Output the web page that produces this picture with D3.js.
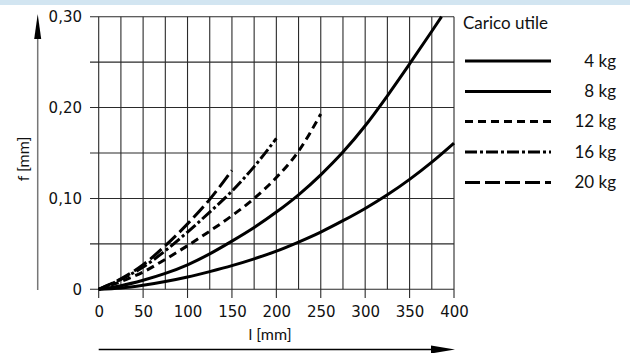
<!DOCTYPE html>
<html><head><meta charset="utf-8">
<script src="https://cdn.jsdelivr.net/npm/d3@7"></script>
<style>
html,body{margin:0;padding:0;background:#fff;}
svg{display:block;}
</style></head>
<body>
<svg id="c" width="630" height="353"></svg>
<script>
// ---- data ----
const xTicks = [0, 50, 100, 150, 200, 250, 300, 350, 400];
const yTickValues = [0, 0.10, 0.20, 0.30];
const yTickLabels = ["0", "0,10", "0,20", "0,30"];
const seriesNames = ["4 kg", "8 kg", "12 kg", "16 kg", "20 kg"];
const l4  = [0, 25, 50, 75, 100, 125, 150, 175, 200, 225, 250, 275, 300, 325, 350, 375, 400];
const f4  = [0, 0.0015, 0.0045, 0.0085, 0.0135, 0.0195, 0.026, 0.0335, 0.042, 0.052, 0.063, 0.0755, 0.089, 0.104, 0.121, 0.140, 0.161];
const l8  = [0, 25, 50, 75, 100, 125, 150, 175, 200, 225, 250, 275, 300, 325, 350, 375, 386];
const f8  = [0, 0.004, 0.010, 0.0175, 0.027, 0.039, 0.053, 0.068, 0.085, 0.104, 0.126, 0.151, 0.180, 0.213, 0.248, 0.284, 0.300];
const l12 = [0, 25, 50, 75, 100, 125, 150, 175, 200, 225, 250];
const f12 = [0, 0.0085, 0.019, 0.033, 0.048, 0.064, 0.081, 0.100, 0.123, 0.152, 0.193];
const l16 = [0, 25, 50, 75, 100, 125, 150, 175, 200];
const f16 = [0, 0.011, 0.0245, 0.0425, 0.063, 0.085, 0.108, 0.135, 0.166];
const l20 = [0, 25, 50, 75, 100, 125, 150];
const f20 = [0, 0.0115, 0.027, 0.048, 0.072, 0.099, 0.131];

const seriesL = [l4, l8, l12, l16, l20];
const seriesF = [f4, f8, f12, f16, f20];
const dashes = [null, null, "8,5", "12,3,3,3", "15,5"];

const svg = d3.select("#c");
// top band
svg.append("rect").attr("x",0).attr("y",0).attr("width",630).attr("height",5).attr("fill","#d2e5f1");

const x = d3.scaleLinear().domain([0, 400]).range([98.7, 454]);
const y = d3.scaleLinear().domain([0, 0.30]).range([289.3, 16.7]);

const grid = svg.append("g").attr("stroke", "#2a2a2a").attr("stroke-width", 1.1);
// vertical grid lines every 25
d3.range(0, 401, 25).forEach(v => {
  const major = v % 50 === 0;
  grid.append("line").attr("x1", x(v)).attr("x2", x(v))
    .attr("y1", y(0.30)).attr("y2", major ? 298 : y(0));
});
// horizontal grid lines every 0.05
d3.range(0, 7).forEach(i => {
  const v = i * 0.05;
  grid.append("line").attr("x1", 90).attr("x2", x(400)).attr("y1", y(v)).attr("y2", y(v));
});

// axes labels via d3 axes (no domain/ticks lines)
const xAxis = d3.axisBottom(x).tickValues(xTicks).tickSize(0).tickPadding(0).tickFormat(d3.format("d"));
const gx = svg.append("g").attr("transform", "translate(0,306)").call(xAxis);
gx.select(".domain").remove();
gx.selectAll("text").attr("font-family","DejaVu Sans").attr("font-size",15).attr("fill","#111").attr("dy","0.71em");

const yAxis = d3.axisLeft(y).tickValues(yTickValues).tickSize(0).tickPadding(0)
  .tickFormat((d, i) => yTickLabels[i]);
const gy = svg.append("g").attr("transform", "translate(82,0)").call(yAxis);
gy.select(".domain").remove();
gy.selectAll("text").attr("font-family","DejaVu Sans").attr("font-size",15).attr("fill","#111");

// curves
const line = d3.line().x(d => x(d[0])).y(d => y(d[1])).curve(d3.curveMonotoneX);
seriesL.forEach((ls, i) => {
  const pts = ls.map((l, j) => [l, seriesF[i][j]]);
  const p = svg.append("path").datum(pts).attr("d", line)
    .attr("fill","none").attr("stroke","#000").attr("stroke-width", 3);
  if (dashes[i]) p.attr("stroke-dasharray", dashes[i]);
});

// axis arrows
svg.append("line").attr("x1",37.7).attr("x2",37.7).attr("y1",290).attr("y2",30).attr("stroke","#777").attr("stroke-width",1.5);
svg.append("path").attr("d","M37.7,14 L34.2,39 L41.2,39 Z").attr("fill","#000");
svg.append("line").attr("x1",98.7).attr("x2",440).attr("y1",349.5).attr("y2",349.5).attr("stroke","#000").attr("stroke-width",1.5);
svg.append("path").attr("d","M455,349.5 L431,345.5 L431,353.5 Z").attr("fill","#000");

// axis titles
svg.append("text").attr("x",270).attr("y",340).attr("text-anchor","middle")
  .attr("font-family","Lato").attr("font-size",16).attr("fill","#111").text("l [mm]");
svg.append("text").attr("transform","translate(29,159) rotate(-90)").attr("text-anchor","middle")
  .attr("font-family","Lato").attr("font-size",16).attr("fill","#111").text("f [mm]");

// legend
svg.append("text").attr("x",463).attr("y",28.5).attr("font-family","Lato").attr("font-size",17).attr("fill","#111").text("Carico utile");
const legY = [61, 91.5, 121.5, 152, 182.5];
seriesNames.forEach((n, i) => {
  const ln = svg.append("line").attr("x1",465).attr("x2",551).attr("y1",legY[i]).attr("y2",legY[i])
    .attr("stroke","#000").attr("stroke-width",3);
  if (dashes[i]) ln.attr("stroke-dasharray", dashes[i]);
  svg.append("text").attr("x",616).attr("y",legY[i]).attr("dy","0.35em").attr("text-anchor","end")
    .attr("font-family","Lato").attr("font-size",17).attr("fill","#111").text(n);
});
</script>
</body></html>
